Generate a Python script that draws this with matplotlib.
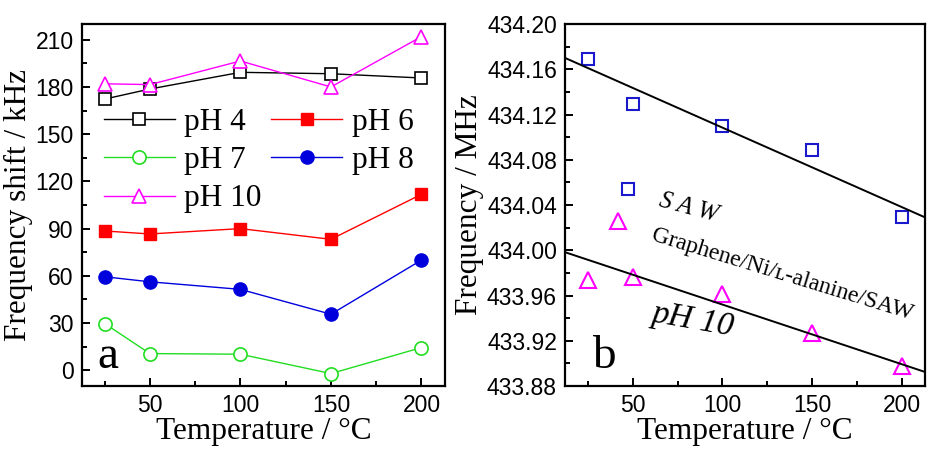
import matplotlib
matplotlib.use("Agg")
import matplotlib.pyplot as plt
import numpy as np
from matplotlib.ticker import MultipleLocator, FormatStrFormatter

# ---------------- data ----------------
temps = [25, 50, 100, 150, 200]
ph4 = [172.3, 178.7, 189.3, 188.4, 185.7]
ph6 = [88.5, 86.6, 90.0, 83.2, 111.8]
ph7 = [29.7, 10.6, 10.2, -2.1, 14.4]
ph8 = [59.4, 56.2, 51.4, 35.6, 70.0]
ph10 = [182.0, 181.5, 196.5, 180.0, 212.0]

saw_freq = [434.169, 434.129, 434.1095, 434.089, 434.029]
gr_freq = [433.9736, 433.9765, 433.961, 433.927, 433.898]
# fitted lines (slope, intercept)
saw_fit = (-0.000703, 434.1787)
gr_fit = (-0.000528, 434.0048)
# key symbols placed next to the annotation text
key_saw = (47.6, 434.054)
key_gr = (41.7, 434.026)

xticks = [50, 100, 150, 200]
yticks_a = [0, 30, 60, 90, 120, 150, 180, 210]
yticks_b = [433.88, 433.92, 433.96, 434.00, 434.04, 434.08, 434.12, 434.16, 434.20]

# ---------------- style ----------------
SERIF = ["Liberation Serif", "DejaVu Serif"]
SANS = ["Liberation Sans", "DejaVu Sans"]
plt.rcParams["font.family"] = SANS
plt.rcParams["axes.linewidth"] = 1.6

fig = plt.figure(figsize=(9.28, 4.49), dpi=100)
axa = fig.add_axes([82/928, 1-386/449, 363/928, 362/449])
axb = fig.add_axes([565.3/928, 1-386/449, 360/928, 362/449])

XLIM = (12.5, 213)

def style_axis(ax):
    ax.tick_params(which="both", direction="in", top=False, right=False,
                   labelsize=16.5, width=1.4)
    ax.tick_params(which="major", length=6, pad=6)
    ax.tick_params(which="minor", length=3.5)
    for lab in ax.get_xticklabels() + ax.get_yticklabels():
        lab.set_fontfamily(SANS)

# ---------------- panel a ----------------
ms = 9.5
axa.plot(temps, ph4, color="black", lw=1.0, marker="s", ms=ms-1, mfc="white",
         mec="black", mew=1.2, label="pH 4")
axa.plot(temps, ph7, color="#22dd22", lw=1.0, marker="o", ms=ms, mfc="white",
         mec="#22dd22", mew=1.2, label="pH 7")
axa.plot(temps, ph10, color="#ff00ff", lw=1.0, marker="^", ms=ms+1, mfc="white",
         mec="#ff00ff", mew=1.2, label="pH 10")
axa.plot(temps, ph6, color="#ff0000", lw=1.0, marker="s", ms=ms-1, mfc="#ff0000",
         mec="#ff0000", label="pH 6")
axa.plot(temps, ph8, color="#0000dd", lw=1.0, marker="o", ms=ms, mfc="#0000dd",
         mec="#0000dd", label="pH 8")

axa.set_xlim(*XLIM)
axa.set_ylim(-10, 220)
axa.set_xticks(xticks)
axa.set_yticks(yticks_a)
axa.xaxis.set_minor_locator(MultipleLocator(25))
axa.yaxis.set_minor_locator(MultipleLocator(15))
style_axis(axa)
axa.set_xlabel("Temperature / \u00b0C", fontsize=22.5, family=SERIF, labelpad=0)
axa.set_ylabel("Frequency shift / kHz", fontsize=22.5, family=SERIF, labelpad=2)

leg = axa.legend(loc="upper left", bbox_to_anchor=(0.06, 0.767), ncol=2,
                 frameon=False, prop={"family": SERIF, "size": 22.5},
                 handlelength=2.28, handletextpad=0.3, columnspacing=0.3,
                 labelspacing=0.29, borderpad=0, borderaxespad=0)

axa.text(0.041, 0.05, "a", transform=axa.transAxes, fontsize=34,
         family=SERIF, ha="left", va="baseline")

# ---------------- panel b ----------------
axb.plot(temps, saw_freq, ls="none", marker="s", ms=9, mfc="none",
         mec="#1a1acc", mew=1.5)
axb.plot(temps, gr_freq, ls="none", marker="^", ms=11, mfc="none",
         mec="#ff00ff", mew=1.5)
axb.plot([key_saw[0]], [key_saw[1]], ls="none", marker="s", ms=9, mfc="none",
         mec="#1a1acc", mew=1.5)
axb.plot([key_gr[0]], [key_gr[1]], ls="none", marker="^", ms=11, mfc="none",
         mec="#ff00ff", mew=1.5)

xx = np.array(XLIM)
axb.plot(xx, saw_fit[0]*xx + saw_fit[1], color="black", lw=1.4)
axb.plot(xx, gr_fit[0]*xx + gr_fit[1], color="black", lw=1.4)

axb.set_xlim(*XLIM)
axb.set_ylim(433.88, 434.20)
axb.set_xticks(xticks)
axb.set_yticks(yticks_b)
axb.yaxis.set_major_formatter(FormatStrFormatter("%.2f"))
axb.xaxis.set_minor_locator(MultipleLocator(25))
axb.yaxis.set_minor_locator(MultipleLocator(0.02))
style_axis(axb)
axb.set_xlabel("Temperature / \u00b0C", fontsize=22.5, family=SERIF, labelpad=0)
axb.set_ylabel("Frequency / MHz", fontsize=22.5, family=SERIF, labelpad=2)

axb.text(81, 434.0377, "S A W", fontsize=18, family=SERIF, style="italic",
         rotation=-15, ha="center", va="center", rotation_mode="anchor")
axb.text(133.4, 433.978, "Graphene/Ni/\u029f-alanine/SAW", fontsize=17,
         family=SERIF, rotation=-17, ha="center", va="center",
         rotation_mode="anchor")
axb.text(83.8, 433.938, "pH 10", fontsize=24, family=SERIF, style="italic",
         rotation=-10, ha="center", va="center", rotation_mode="anchor")
axb.text(0.073, 0.05, "b", transform=axb.transAxes, fontsize=34,
         family=SERIF, ha="left", va="baseline")

fig.savefig("out.png", dpi=100)
